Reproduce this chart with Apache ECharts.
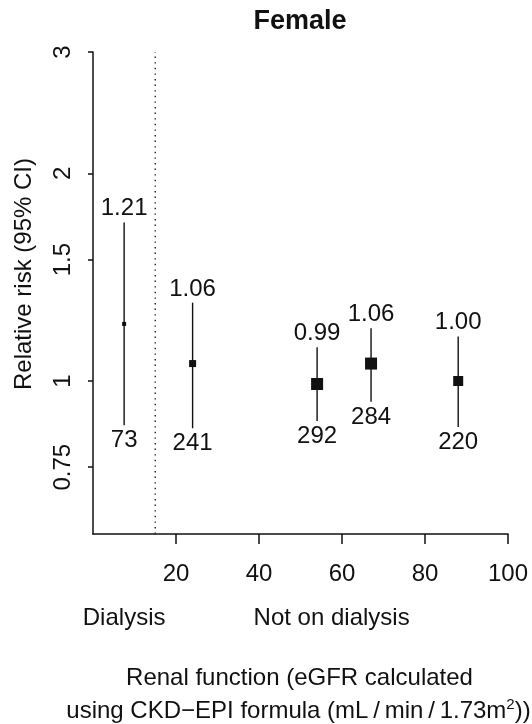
<!DOCTYPE html>
<html>
<head>
<meta charset="utf-8">
<script src="https://cdn.jsdelivr.net/npm/echarts@6/dist/echarts.min.js"></script>
<style>
  html, body { margin: 0; padding: 0; background: #ffffff; }
  #chart { width: 532px; height: 724px; }
</style>
</head>
<body>
<div id="chart"></div>
<script>
// ---- data ----
const groups      = ['Dialysis', 'eGFR <30', 'eGFR 30-59 (a)', 'eGFR 30-59 (b)', 'eGFR >=60'];
const egfrX       = [7.5, 24, 54, 67, 88];
const relRisk     = [1.21, 1.06, 0.99, 1.06, 1.00];
const rrLabels    = ['1.21', '1.06', '0.99', '1.06', '1.00'];
const ciLower     = [0.863, 0.854, 0.875, 0.933, 0.858];
const ciUpper     = [1.698, 1.299, 1.119, 1.193, 1.160];
const counts      = [73, 241, 292, 284, 220];
const yTicks      = [0.75, 1, 1.5, 2, 3];
const yTickLabels = ['0.75', '1', '1.5', '2', '3'];
const xTicks      = [20, 40, 60, 80, 100];
const yRange      = [0.6, 3];
const xRange      = [0, 100];
const dialysisCutoff = 15;
const sectionLabels = ['Dialysis', 'Not on dialysis'];
const sectionLabelX = [7.5, 57.5];

// ---- styles ----
const boxSizes = [4, 7, 12, 12, 10];
const INK = '#111111';
const FONT = '"Liberation Sans", Arial, Helvetica, sans-serif';

const ln = Math.log;
const chart = echarts.init(document.getElementById('chart'), null, { renderer: 'canvas' });

const ciData = egfrX.map((x, i) => [x, ln(relRisk[i]), ln(ciLower[i]), ln(ciUpper[i])]);

function yLabelFor(v) {
  for (let k = 0; k < yTicks.length; k++) {
    if (Math.abs(ln(yTicks[k]) - v) < 1e-6) return yTickLabels[k];
  }
  return '';
}

const option = {
  animation: false,
  backgroundColor: '#ffffff',
  title: {
    text: 'Female',
    left: 300,
    top: 8,
    padding: 0,
    textAlign: 'center',
    textStyle: { fontFamily: FONT, fontWeight: 'bold', fontSize: 27, color: INK }
  },
  grid: { left: 93, right: 24, top: 52, bottom: 190, containLabel: false },
  xAxis: {
    type: 'value',
    min: xRange[0],
    max: xRange[1],
    interval: 20,
    axisLine: { show: true, onZero: false, lineStyle: { color: INK, width: 1.5 } },
    axisTick: { show: true, length: 10, customValues: xTicks, lineStyle: { color: INK, width: 1.5 } },
    axisLabel: {
      customValues: xTicks,
      margin: 28,
      fontFamily: FONT, fontSize: 24, color: INK
    },
    splitLine: { show: false }
  },
  yAxis: {
    type: 'value',
    min: ln(yRange[0]),
    max: ln(yRange[1]),
    axisLine: { show: true, onZero: false, lineStyle: { color: INK, width: 1.5 } },
    axisTick: { show: true, length: 5, customValues: yTicks.map(ln), lineStyle: { color: INK, width: 1.5 } },
    axisLabel: {
      customValues: yTicks.map(ln),
      formatter: yLabelFor,
      rotate: 90,
      margin: 18,
      fontFamily: FONT, fontSize: 24, color: INK
    },
    splitLine: { show: false }
  },
  series: [
    {
      type: 'line',
      data: [[dialysisCutoff, ln(yRange[0])], [dialysisCutoff, ln(yRange[1])]],
      symbol: 'none',
      silent: true,
      lineStyle: { color: '#222222', width: 1.4, type: [1.4, 4.2] },
      z: 1
    },
    {
      type: 'custom',
      data: ciData,
      silent: true,
      renderItem: function (params, api) {
        const i = params.dataIndex;
        const p = api.coord([api.value(0), api.value(1)]);
        const lo = api.coord([api.value(0), api.value(2)]);
        const hi = api.coord([api.value(0), api.value(3)]);
        const s = boxSizes[i];
        return {
          type: 'group',
          children: [
            { type: 'line', shape: { x1: p[0], y1: hi[1], x2: p[0], y2: lo[1] },
              style: { stroke: INK, lineWidth: 1.4 } },
            { type: 'rect', shape: { x: p[0] - s / 2, y: p[1] - s / 2, width: s, height: s },
              style: { fill: INK } },
            { type: 'text', x: p[0], y: hi[1] - 13.7,
              style: { text: rrLabels[i], align: 'center', verticalAlign: 'middle',
                       font: '24px ' + FONT, fill: INK } },
            { type: 'text', x: p[0], y: lo[1] + 15.3,
              style: { text: String(counts[i]), align: 'center', verticalAlign: 'middle',
                       font: '24px ' + FONT, fill: INK } }
          ]
        };
      },
      z: 2
    }
  ]
};

chart.setOption(option);

// annotations positioned through the chart's own coordinate conversion
const baseY = chart.convertToPixel({ gridIndex: 0 }, [0, ln(yRange[0])])[1];
const gridMidX = (chart.convertToPixel({ gridIndex: 0 }, [xRange[0], 0])[0] +
                  chart.convertToPixel({ gridIndex: 0 }, [xRange[1], 0])[0]) / 2;
const topY = chart.convertToPixel({ gridIndex: 0 }, [0, ln(yRange[1])])[1];

const graphics = sectionLabels.map((t, k) => ({
  type: 'text',
  x: chart.convertToPixel({ gridIndex: 0 }, [sectionLabelX[k], 0])[0],
  y: baseY + 84,
  style: { text: t, align: 'center', verticalAlign: 'middle', font: '24px ' + FONT, fill: INK }
}));

graphics.push({
  type: 'text',
  x: 24,
  y: (topY + baseY) / 2 - 19,
  rotation: Math.PI / 2,
  style: { text: 'Relative risk (95% CI)', align: 'center', verticalAlign: 'middle',
           font: '24px ' + FONT, fill: INK }
});
graphics.push({
  type: 'text',
  x: gridMidX - 1,
  y: baseY + 144,
  style: { text: 'Renal function (eGFR calculated', align: 'center', verticalAlign: 'middle',
           font: '24px ' + FONT, fill: INK }
});
graphics.push({
  type: 'text',
  x: gridMidX - 2,
  y: baseY + 177,
  style: {
    text: 'using CKD\u2212EPI formula (mL\u2009/\u2009min\u2009/\u20091.73m{sup|2}))',
    align: 'center', verticalAlign: 'middle',
    font: '24px ' + FONT, fill: INK,
    rich: {
      sup: { fontSize: 15, fontFamily: FONT, fill: INK, verticalAlign: 'bottom', padding: [0, 0, 12, 0] }
    }
  }
});

chart.setOption({ graphic: graphics });
</script>
</body>
</html>
